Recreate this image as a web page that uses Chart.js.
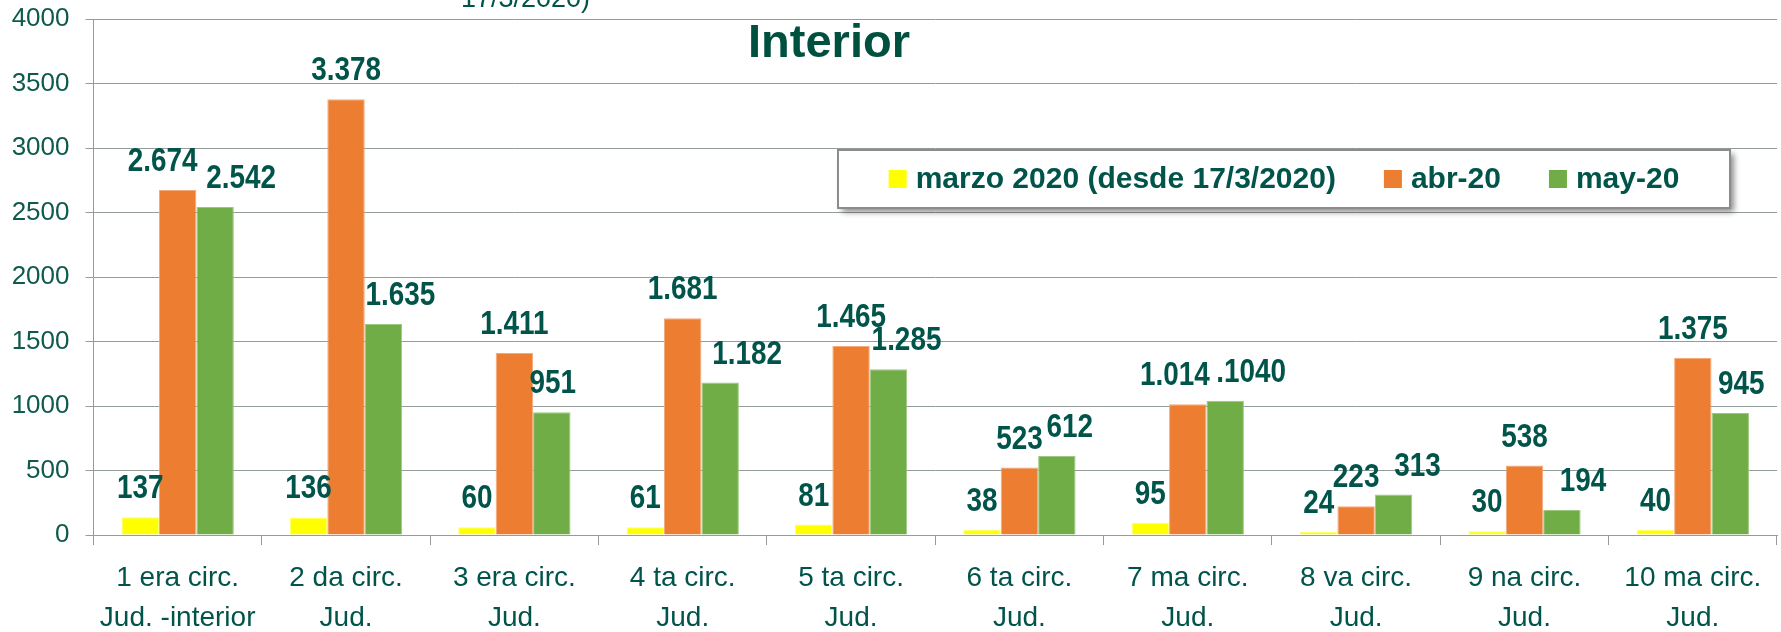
<!DOCTYPE html>
<html>
<head>
<meta charset="utf-8">
<script src="https://cdn.jsdelivr.net/npm/chart.js@4.4.1/dist/chart.umd.min.js"></script>
<style>
html,body{margin:0;padding:0;background:#ffffff;}
#wrap{width:1781px;height:632px;position:relative;}
</style>
</head>
<body>
<div id="wrap"><canvas id="c" width="1781" height="632"></canvas></div>
<script>
// ---------- data ----------
const categories = [
  ['1 era circ.', 'Jud. -interior'],
  ['2 da circ.', 'Jud.'],
  ['3 era circ.', 'Jud.'],
  ['4 ta circ.', 'Jud.'],
  ['5 ta circ.', 'Jud.'],
  ['6 ta circ.', 'Jud.'],
  ['7 ma circ.', 'Jud.'],
  ['8 va circ.', 'Jud.'],
  ['9 na circ.', 'Jud.'],
  ['10 ma circ.', 'Jud.']
];
const seriesNames = ['marzo 2020 (desde 17/3/2020)', 'abr-20', 'may-20'];
const marzo = [137, 136, 60, 61, 81, 38, 95, 24, 30, 40];
const abr   = [2674, 3378, 1411, 1681, 1465, 523, 1014, 223, 538, 1375];
const may   = [2542, 1635, 951, 1182, 1285, 612, 1040, 313, 194, 945];
const marzoLabels = ['137', '136', '60', '61', '81', '38', '95', '24', '30', '40'];
const abrLabels   = ['2.674', '3.378', '1.411', '1.681', '1.465', '523', '1.014', '223', '538', '1.375'];
const mayLabels   = ['2.542', '1.635', '951', '1.182', '1.285', '612', '.1040', '313', '194', '945'];
const yTicks = [0, 500, 1000, 1500, 2000, 2500, 3000, 3500, 4000];
const titleText = 'Interior';
const cutTitleText = '17/3/2020)';

// ---------- styling ----------
const colors = ['#FFFF00', '#ED7D31', '#70AD47'];
const borders = ['#FFFF66', '#F4A97A', '#9CC97F'];
const textGreen = '#00544A';
const gridGray = '#959D9A';
// horizontal label nudges (px) relative to each bar centre
const labelNudge = [
  [0, 0, 0, 0, 0, 0, 0, 0, 0, 0],
  [-15, 0, 0, 0, 0, 0, -13, 0, 0, 0],
  [26, 17, 1, 27, 18, 13, 26, 24, 21, 11]
];
const FONT = '"Liberation Sans", Arial, Helvetica, sans-serif';

const overlayPlugin = {
  id: 'overlay',
  afterDatasetsDraw(chart) {
    const ctx = chart.ctx;
    const texts = [marzoLabels, abrLabels, mayLabels];
    ctx.save();
    ctx.fillStyle = textGreen;
    ctx.font = 'bold 34px ' + FONT;
    ctx.textAlign = 'center';
    ctx.textBaseline = 'alphabetic';
    chart.data.datasets.forEach((ds, di) => {
      const meta = chart.getDatasetMeta(di);
      meta.data.forEach((bar, i) => {
        const x = bar.x + labelNudge[di][i];
        const y = bar.y - 19;
        ctx.save();
        ctx.translate(x, y);
        ctx.scale(0.82, 1);
        ctx.fillText(texts[di][i], 0, 0);
        ctx.restore();
      });
    });
    ctx.restore();
  },
  afterDraw(chart) {
    const ctx = chart.ctx;
    // cut-off upper title
    ctx.save();
    ctx.fillStyle = textGreen;
    ctx.font = '27px ' + FONT;
    ctx.textAlign = 'left';
    ctx.textBaseline = 'alphabetic';
    ctx.fillText(cutTitleText, 461, 7);
    // title
    ctx.font = 'bold 47px ' + FONT;
    ctx.fillStyle = '#00503F';
    ctx.textAlign = 'center';
    ctx.fillText(titleText, 829, 57);
    ctx.restore();

    // legend box
    const bx = 838, by = 150, bw = 892, bh = 58;
    ctx.save();
    ctx.shadowColor = 'rgba(0,0,0,0.45)';
    ctx.shadowBlur = 6;
    ctx.shadowOffsetX = 4;
    ctx.shadowOffsetY = 4;
    ctx.fillStyle = '#ffffff';
    ctx.fillRect(bx, by, bw, bh);
    ctx.restore();
    ctx.save();
    ctx.strokeStyle = '#8C8C8C';
    ctx.lineWidth = 2;
    ctx.strokeRect(bx, by, bw, bh);
    ctx.font = 'bold 30px ' + FONT;
    ctx.textBaseline = 'middle';
    ctx.textAlign = 'left';
    const sq = 18, gap = 9, itemGap = 48;
    const items = chart.data.datasets.map(d => ({ label: d.label, color: d.backgroundColor }));
    let total = 0;
    items.forEach((it, k) => {
      it.w = ctx.measureText(it.label).width;
      total += sq + gap + it.w + (k < items.length - 1 ? itemGap : 0);
    });
    let x = bx + (bw - total) / 2;
    const cy = by + bh / 2;
    items.forEach(it => {
      ctx.fillStyle = it.color;
      ctx.fillRect(x, cy - sq / 2, sq, sq);
      x += sq + gap;
      ctx.fillStyle = textGreen;
      ctx.fillText(it.label, x, cy + 1);
      x += it.w + itemGap;
    });
    ctx.restore();
  }
};

new Chart(document.getElementById('c'), {
  type: 'bar',
  data: {
    labels: categories,
    datasets: [
      { label: seriesNames[0], data: marzo, backgroundColor: colors[0], borderColor: borders[0], borderWidth: 1 },
      { label: seriesNames[1], data: abr, backgroundColor: colors[1], borderColor: borders[1], borderWidth: 1 },
      { label: seriesNames[2], data: may, backgroundColor: colors[2], borderColor: borders[2], borderWidth: 1 }
    ]
  },
  options: {
    responsive: false,
    animation: false,
    devicePixelRatio: 1,
    datasets: { bar: { categoryPercentage: 0.667, barPercentage: 1.0 } },
    layout: { padding: { top: 19, right: 4, bottom: 0, left: 0 } },
    plugins: { legend: { display: false }, title: { display: false }, tooltip: { enabled: false } },
    scales: {
      x: {
        offset: true,
        grid: { display: true, drawOnChartArea: false, drawTicks: true, tickLength: 10, color: gridGray, offset: true },
        border: { display: true, color: gridGray, width: 1 },
        ticks: {
          color: textGreen,
          font: { family: FONT, size: 28, lineHeight: 1.4 },
          padding: 14,
          maxRotation: 0,
          autoSkip: false
        },
        afterFit(scale) { scale.height = 97; scale.paddingLeft = 0; scale.paddingRight = 0; }
      },
      y: {
        min: 0,
        max: 4000,
        afterBuildTicks(scale) { scale.ticks = yTicks.map(v => ({ value: v })); },
        grid: { color: gridGray, tickLength: 8, drawTicks: true },
        border: { display: true, color: gridGray, width: 1 },
        ticks: {
          color: '#0E5A4C',
          font: { family: FONT, size: 26 },
          padding: 16,
          callback: (v) => String(v)
        },
        afterFit(scale) { scale.width = 93.5; scale.paddingTop = 0; scale.paddingBottom = 0; }
      }
    }
  },
  plugins: [overlayPlugin]
});
</script>
</body>
</html>
